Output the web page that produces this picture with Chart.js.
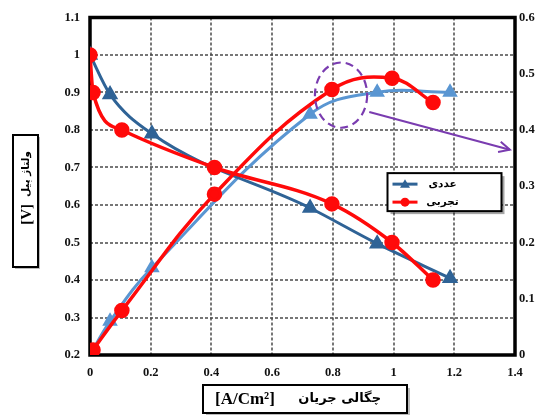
<!DOCTYPE html>
<html>
<head>
<meta charset="utf-8">
<script src="https://cdn.jsdelivr.net/npm/chart.js@4/dist/chart.umd.min.js"></script>
<style>
html,body{margin:0;padding:0;background:#fff;}
#wrap{width:546px;height:415px;position:relative;}
</style>
</head>
<body>
<div id="wrap"><canvas id="c" width="546" height="415"></canvas></div>
<script>
// ---- data ----
const currentNum = [0, 0.066, 0.204, 0.725, 0.946, 1.186];
const voltageNum = [1.0, 0.895, 0.79, 0.592, 0.497, 0.405];
const powerNum   = [0, 0.06, 0.155, 0.428, 0.467, 0.467];

const currentExp = [0, 0.01, 0.105, 0.41, 0.797, 0.995, 1.13];
const voltageExp = [1.0, 0.9, 0.8, 0.7, 0.603, 0.5, 0.4];
const powerExp   = [0, 0.009, 0.079, 0.286, 0.472, 0.492, 0.449];

const xTicks = [0, 0.2, 0.4, 0.6, 0.8, 1.0, 1.2, 1.4];
const legendLabels = ['عددی', 'تجربی'];
const xTitleUnit = '[A/Cm²]';
const xTitleText = 'چگالی جریان';
const yTitleUnit = '[V]';
const yTitleText = 'ولتاژ پیل';

const pts = (xs, ys) => xs.map((x, i) => ({x: x, y: ys[i]}));

const RED = '#FF0A0A';
const DBLUE = '#2F6396';
const LBLUE = '#5A96D2';
const PURPLE = '#7A3CB0';
const GRID = '#4a4a4a';

const frame = {
  id: 'frame',
  beforeDatasetsDraw(chart) {
    const ctx = chart.ctx, a = chart.chartArea;
    const xs = chart.scales.x, yl = chart.scales.y;
    ctx.save();
    // dashed grid at the scales' own ticks
    ctx.strokeStyle = GRID;
    ctx.lineWidth = 1.5;
    ctx.setLineDash([3, 2]);
    xs.ticks.forEach(t => {
      const px = Math.round(xs.getPixelForValue(t.value));
      if (px <= a.left + 2 || px >= a.right - 2) return;
      ctx.beginPath(); ctx.moveTo(px, a.top); ctx.lineTo(px, a.bottom); ctx.stroke();
    });
    yl.ticks.forEach(t => {
      const py = Math.round(yl.getPixelForValue(t.value));
      if (py <= a.top + 2 || py >= a.bottom - 2) return;
      ctx.beginPath(); ctx.moveTo(a.left, py); ctx.lineTo(a.right, py); ctx.stroke();
    });
    ctx.setLineDash([]);
    ctx.strokeStyle = '#000';
    ctx.lineWidth = 3.5;
    ctx.strokeRect(a.left, a.top, a.right - a.left, a.bottom - a.top);
    ctx.restore();
  },
  afterDatasetsDraw(chart) {
    const ctx = chart.ctx;
    const xs = chart.scales.x, yr = chart.scales.y1;
    // annotation ellipse (data units, right axis)
    const cx = xs.getPixelForValue(0.827), cy = yr.getPixelForValue(0.462);
    const rx = xs.getPixelForValue(0.827 + 0.086) - cx;
    const ry = cy - yr.getPixelForValue(0.462 + 0.058);
    ctx.save();
    ctx.strokeStyle = PURPLE;
    ctx.lineWidth = 2.2;
    ctx.setLineDash([8, 5]);
    ctx.beginPath();
    ctx.ellipse(cx, cy, rx, ry, 0, 0, Math.PI * 2);
    ctx.stroke();
    ctx.setLineDash([]);
    // arrow
    const x0 = xs.getPixelForValue(0.92), y0 = yr.getPixelForValue(0.432);
    const x1 = xs.getPixelForValue(1.383), y1 = yr.getPixelForValue(0.365);
    ctx.lineWidth = 2;
    ctx.beginPath(); ctx.moveTo(x0, y0); ctx.lineTo(x1, y1); ctx.stroke();
    const ang = Math.atan2(y1 - y0, x1 - x0);
    ctx.beginPath();
    ctx.moveTo(x1 - 12 * Math.cos(ang - 0.45), y1 - 12 * Math.sin(ang - 0.45));
    ctx.lineTo(x1, y1);
    ctx.lineTo(x1 - 12 * Math.cos(ang + 0.45), y1 - 12 * Math.sin(ang + 0.45));
    ctx.stroke();

    // legend box
    const lx = xs.getPixelForValue(0.98), ly = chart.scales.y.getPixelForValue(0.685);
    const lw = 114, lh = 38;
    ctx.fillStyle = 'rgba(0,0,0,0.35)';
    ctx.fillRect(lx + 3, ly + 3, lw, lh);
    ctx.fillStyle = '#fff';
    ctx.fillRect(lx, ly, lw, lh);
    ctx.strokeStyle = '#000';
    ctx.lineWidth = 2;
    ctx.strokeRect(lx, ly, lw, lh);
    const rows = [{c: DBLUE, s: 'tri'}, {c: RED, s: 'dot'}];
    rows.forEach((r, i) => {
      const yy = ly + 11 + i * 18;
      ctx.strokeStyle = r.c; ctx.fillStyle = r.c; ctx.lineWidth = 3;
      ctx.beginPath(); ctx.moveTo(lx + 5, yy); ctx.lineTo(lx + 30, yy); ctx.stroke();
      const mx = lx + 17.5;
      ctx.beginPath();
      if (r.s === 'tri') { ctx.moveTo(mx, yy - 5); ctx.lineTo(mx + 5, yy + 3.5); ctx.lineTo(mx - 5, yy + 3.5); ctx.closePath(); }
      else { ctx.arc(mx, yy, 4.5, 0, Math.PI * 2); }
      ctx.fill();
      ctx.fillStyle = '#000';
      ctx.font = 'bold 10.5px "DejaVu Sans"';
      ctx.textAlign = 'center'; ctx.textBaseline = 'middle';
      ctx.fillText(legendLabels[i], lx + 55, yy);
    });
    ctx.restore();
  },
  afterDraw(chart) {
    const ctx = chart.ctx;
    ctx.save();
    // x title box
    ctx.strokeStyle = '#000'; ctx.lineWidth = 2;
    ctx.fillStyle = '#bbb';
    ctx.fillRect(206, 388, 204, 28);
    ctx.fillStyle = '#fff';
    ctx.fillRect(203, 385, 204, 28);
    ctx.strokeRect(203, 385, 204, 28);
    ctx.fillStyle = '#000';
    ctx.textBaseline = 'middle';
    ctx.textAlign = 'left';
    ctx.font = 'bold 17px "Liberation Serif"';
    ctx.fillText(xTitleUnit, 215, 400);
    ctx.textAlign = 'right';
    ctx.font = 'bold 13px "DejaVu Sans"';
    ctx.fillText(xTitleText, 381, 399);
    // y title box
    ctx.fillStyle = '#bbb';
    ctx.fillRect(15, 137, 25, 132);
    ctx.fillStyle = '#fff';
    ctx.fillRect(13, 135, 25, 132);
    ctx.strokeRect(13, 135, 25, 132);
    ctx.translate(26, 201);
    ctx.rotate(-Math.PI / 2);
    ctx.fillStyle = '#000';
    ctx.textAlign = 'right';
    ctx.font = 'bold 15px "Liberation Serif"';
    ctx.fillText(yTitleUnit, -3, 1);
    ctx.textAlign = 'left';
    ctx.font = 'bold 10.5px "DejaVu Sans"';
    ctx.fillText(yTitleText, 4, 0);
    ctx.restore();
  }
};

const tickFont = {family: '"Liberation Serif"', size: 12.5, weight: 'bold'};
const fmt = v => String(parseFloat(Number(v).toFixed(1)));

new Chart(document.getElementById('c'), {
  type: 'line',
  data: {
    datasets: [
      {label: 'تجربی', data: pts(currentExp, voltageExp), yAxisID: 'y', borderColor: RED, backgroundColor: RED,
       borderWidth: 3.5, pointStyle: 'circle', pointRadius: 6, cubicInterpolationMode: 'monotone'},
      {label: 'تجربی P', data: pts(currentExp, powerExp), yAxisID: 'y1', borderColor: RED, backgroundColor: RED,
       borderWidth: 3.5, pointStyle: 'circle', pointRadius: 6, tension: 0.4},
      {label: 'عددی', data: pts(currentNum, voltageNum), yAxisID: 'y', borderColor: DBLUE, backgroundColor: DBLUE,
       borderWidth: 3, pointStyle: 'triangle', pointRadius: 6.5, cubicInterpolationMode: 'monotone'},
      {label: 'عددی P', data: pts(currentNum, powerNum), yAxisID: 'y1', borderColor: LBLUE, backgroundColor: LBLUE,
       borderWidth: 3, pointStyle: 'triangle', pointRadius: 6, tension: 0.4}
    ]
  },
  options: {
    responsive: false,
    animation: false,
    layout: {padding: {top: 13, left: 0, right: 0, bottom: 0}},
    plugins: {legend: {display: false}, tooltip: {enabled: false}},
    scales: {
      x: {
        type: 'linear', min: 0, max: 1.4,
        afterBuildTicks: s => { s.ticks = xTicks.map(v => ({value: v})); },
        afterFit: s => { s.height = 60; },
        ticks: {font: tickFont, color: '#111', padding: 10, callback: fmt, maxRotation: 0},
        grid: {display: false, drawTicks: false},
        border: {display: false}
      },
      y: {
        type: 'linear', position: 'left', min: 0.2, max: 1.1,
        ticks: {stepSize: 0.1, font: tickFont, color: '#111', padding: 10, callback: fmt},
        afterFit: s => { s.width = 90; },
        grid: {display: false, drawTicks: false},
        border: {display: false}
      },
      y1: {
        type: 'linear', position: 'right', min: 0, max: 0.6,
        ticks: {stepSize: 0.1, font: tickFont, color: '#111', padding: 4, callback: fmt},
        afterFit: s => { s.width = 31; },
        grid: {display: false, drawTicks: false},
        border: {display: false}
      }
    }
  },
  plugins: [frame]
});
</script>
</body>
</html>
